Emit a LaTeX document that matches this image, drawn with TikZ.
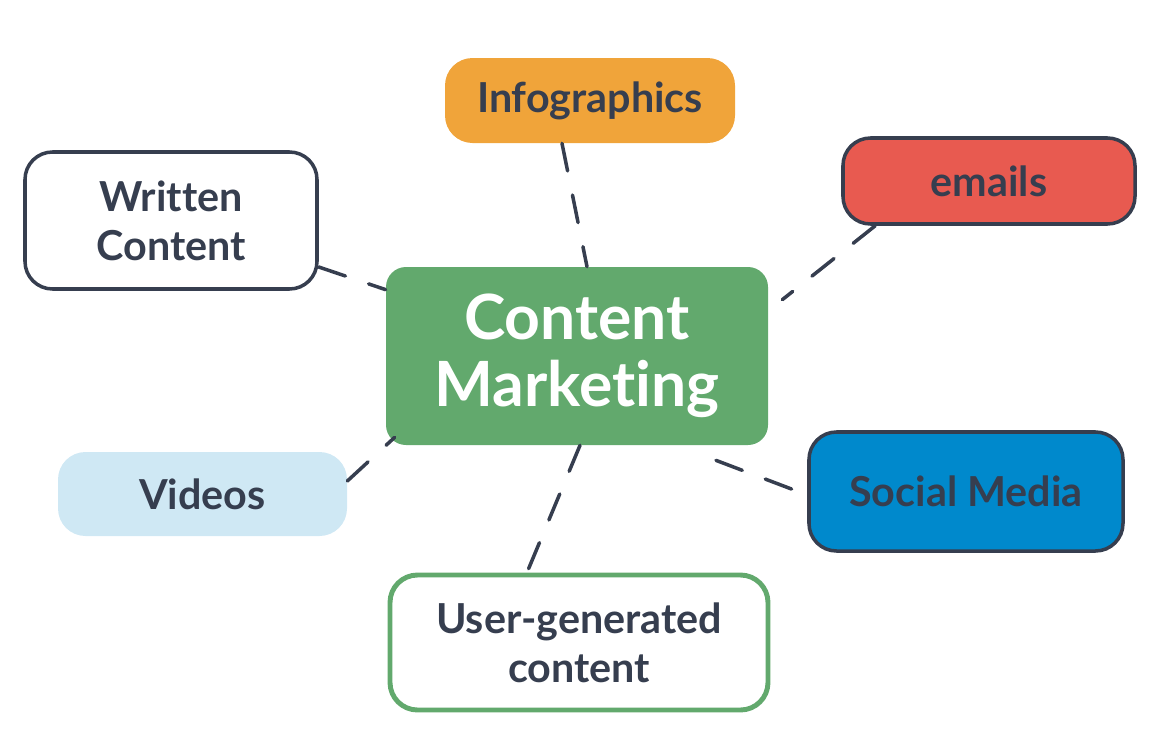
\documentclass[tikz,border=0pt]{standalone}
\usepackage{fontspec}
\setmainfont{Lato}[Ligatures={NoCommon}]
\usepackage{xcolor}
\definecolor{cmgreen}{RGB}{98, 169, 109}
\definecolor{cmorange}{RGB}{240, 164, 58}
\definecolor{cmred}{RGB}{232, 90, 80}
\definecolor{cmblue}{RGB}{0, 137, 204}
\definecolor{cmsky}{RGB}{207, 232, 244}
\definecolor{cmdark}{RGB}{54, 62, 79}
\usetikzlibrary{calc}

\begin{document}
\begin{tikzpicture}[
    topic/.style={rounded corners=0.55cm, minimum width=#1, align=center,
        text=cmdark, font=\fontsize{23.5}{28}\selectfont\bfseries},
    topic/.default=5.8cm,
    link/.style={cmdark, line width=2pt, line cap=round, dash pattern=on 16pt off 14pt}
]
\useasboundingbox (0,0) rectangle (23.08,-14.86);

% === Nodo central ===
\node[fill=cmgreen, rounded corners=0.4cm, minimum width=7.64cm, minimum height=3.56cm,
    text=white, align=center, font=\fontsize{35.5}{38}\selectfont\bfseries]
    (cm) at (11.54, -7.12) {Content\\Marketing};

% === Temas ===
\node[topic, fill=cmorange, minimum height=1.7cm] (info) at (11.8, -2.01) {Infographics};
\node[topic=5.84cm, fill=cmred, draw=cmdark, line width=2pt, minimum height=1.72cm]
    (emails) at (19.78, -3.62) {emails};
\node[topic=5.84cm, fill=white, draw=cmdark, line width=2pt, minimum height=2.74cm]
    (written) at (3.42, -4.41) {Written\\Content};
\node[topic=5.78cm, fill=cmsky, minimum height=1.68cm] (videos) at (4.05, -9.88) {Videos};
\node[topic=6.28cm, fill=cmblue, draw=cmdark, line width=2pt, minimum height=2.38cm]
    (social) at (19.32, -9.83) {Social Media};
\node[topic=7.56cm, fill=white, draw=cmgreen, line width=2.8pt, minimum height=2.7cm]
    (ugc) at (11.58, -12.85) {User-generated\\content};

% === Conectores ===
\draw[link] ($(info.south)+(-0.56,0)$) -- ($(cm.north)+(0.2,0)$);
\draw[link] ($(emails.south west)+(0.68,0)$) -- ($(cm.north east)+(0.28,-0.66)$);
\draw[link] ($(written.east)+(0,-0.93)$) -- ($(cm.north west)+(0,-0.46)$);
\draw[link] ($(videos.east)+(0,0.26)$) -- ($(cm.south west)+(0.18,0.16)$);
\draw[link] ($(cm.south)+(2.78,-0.3)$) -- ($(social.west)+(0,-0.07)$);
\draw[link] ($(cm.south)+(0.06,0)$) -- ($(ugc.north)+(-1.04,0)$);

\end{tikzpicture}
\end{document}
